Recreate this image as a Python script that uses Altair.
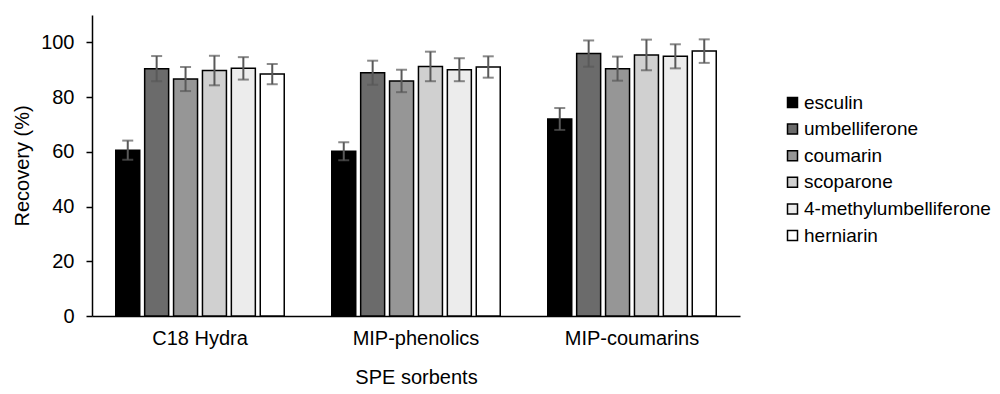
import altair as alt
import pandas as pd

sorbents = ["C18 Hydra", "MIP-phenolics", "MIP-coumarins"]
compounds = ["esculin", "umbelliferone", "coumarin", "scoparone",
             "4-methylumbelliferone", "herniarin"]
colors = ["#000000", "#6b6b6b", "#969696", "#d0d0d0", "#ececec", "#ffffff"]

rec_c18 = [60.6, 90.4, 86.6, 89.7, 90.5, 88.4]
err_c18 = [3.5, 4.6, 4.4, 5.4, 4.1, 3.7]
rec_phen = [60.2, 88.9, 85.9, 91.2, 90.0, 91.0]
err_phen = [3.3, 4.4, 4.1, 5.4, 4.2, 3.9]
rec_coum = [72.0, 95.9, 90.4, 95.4, 94.9, 96.8]
err_coum = [4.0, 4.8, 4.4, 5.6, 4.4, 4.3]

rows = []
for s, recs, errs in zip(sorbents, [rec_c18, rec_phen, rec_coum],
                         [err_c18, err_phen, err_coum]):
    for c, r, e in zip(compounds, recs, errs):
        rows.append({"sorbent": s, "compound": c, "recovery": r,
                     "lo": r - e, "hi": r + e})
df = pd.DataFrame(rows)

FONT = "Liberation Sans"
FS = 20

x_enc = alt.X("sorbent:N", sort=sorbents,
              scale=alt.Scale(paddingInner=0.22, paddingOuter=0.11),
              axis=alt.Axis(title="SPE sorbents", labelAngle=0, ticks=False,
                            labelPadding=12, titlePadding=19))
xo_enc = alt.XOffset("compound:N", sort=compounds,
                     scale=alt.Scale(paddingInner=0.17, paddingOuter=0))

base = alt.Chart(df)

bars = base.mark_bar(stroke="#000000", strokeWidth=1.5).encode(
    x=x_enc,
    xOffset=xo_enc,
    y=alt.Y("recovery:Q",
            scale=alt.Scale(domain=[0, 110], nice=False),
            axis=alt.Axis(title="Recovery (%)", values=[0, 20, 40, 60, 80, 100],
                          grid=False, tickSize=6, labelPadding=12,
                          titlePadding=8)),
    color=alt.Color("compound:N", sort=compounds,
                    scale=alt.Scale(domain=compounds, range=colors),
                    legend=alt.Legend(title=None, orient="none",
                                      legendX=691, legendY=78,
                                      symbolType="square", symbolSize=100,
                                      symbolStrokeColor="#000000",
                                      symbolStrokeWidth=1.5,
                                      labelFontSize=19, labelFont=FONT,
                                      labelColor="#000000", labelLimit=0,
                                      rowPadding=6.6, labelOffset=2)),
)

rules = base.mark_rule(color="#595959", strokeWidth=2).encode(
    x=alt.X("sorbent:N", sort=sorbents),
    xOffset=alt.XOffset("compound:N", sort=compounds),
    y="lo:Q",
    y2="hi:Q",
)
cap_hi = base.mark_tick(color="#595959", thickness=2, size=11).encode(
    x=alt.X("sorbent:N", sort=sorbents),
    xOffset=alt.XOffset("compound:N", sort=compounds),
    y="hi:Q",
)
cap_lo = base.mark_tick(color="#595959", thickness=2, size=11).encode(
    x=alt.X("sorbent:N", sort=sorbents),
    xOffset=alt.XOffset("compound:N", sort=compounds),
    y="lo:Q",
)

chart = alt.layer(bars, rules, cap_hi, cap_lo).properties(
    width=648, height=301,
    autosize=alt.AutoSizeParams(type="none"),
    padding={"left": 84, "top": 7, "right": 252, "bottom": 70},
).configure_view(stroke=None).configure_axis(
    labelFont=FONT, titleFont=FONT, labelFontSize=FS, titleFontSize=FS,
    labelColor="#000000", titleColor="#000000", titleFontWeight="normal",
    domainColor="#000000", domainWidth=1.5, tickColor="#000000", tickWidth=1.5,
)

chart.save("out.html", embed_options={"renderer": "svg", "actions": False})
